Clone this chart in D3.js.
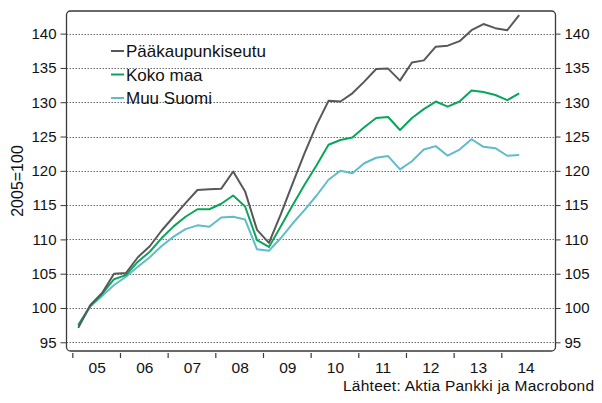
<!DOCTYPE html>
<html>
<head>
<meta charset="utf-8">
<script src="https://cdn.jsdelivr.net/npm/d3@7"></script>
<style>
  html, body { margin: 0; padding: 0; background: #fff; }
  svg { display: block; font-family: "Liberation Sans", Arial, sans-serif; }
</style>
</head>
<body>
<svg id="chart" width="602" height="403"></svg>
<script>
// ---- Data ----
const quarters = [
  "2005Q1","2005Q2","2005Q3","2005Q4","2006Q1","2006Q2","2006Q3","2006Q4",
  "2007Q1","2007Q2","2007Q3","2007Q4","2008Q1","2008Q2","2008Q3","2008Q4",
  "2009Q1","2009Q2","2009Q3","2009Q4","2010Q1","2010Q2","2010Q3","2010Q4",
  "2011Q1","2011Q2","2011Q3","2011Q4","2012Q1","2012Q2","2012Q3","2012Q4",
  "2013Q1","2013Q2","2013Q3","2013Q4","2014Q1","2014Q2"
];
const paakaupunkiseutu = [97.1, 100.4, 102.2, 105.0, 105.1, 107.4, 109.0, 111.3, 113.3, 115.3,
  117.2, 117.3, 117.4, 119.9, 117.0, 111.4, 109.5, 113.7, 118.2, 122.6, 126.7, 130.2, 130.1,
  131.3, 133.0, 134.85, 134.9, 133.15, 135.8, 136.1, 138.1, 138.25, 138.9, 140.5, 141.4, 140.8,
  140.5, 142.7];
const kokoMaa = [97.5, 100.3, 102.05, 104.2, 104.8, 106.75, 108.2, 110.2, 111.9, 113.3,
  114.4, 114.4, 115.2, 116.4, 114.8, 109.9, 108.9, 111.9, 115.0, 118.0, 120.8, 123.8, 124.5,
  124.85, 126.35, 127.7, 127.85, 125.95, 127.7, 129.0, 130.1, 129.35, 130.1, 131.7, 131.5,
  131.05, 130.3, 131.3];
const muuSuomi = [97.4, 100.2, 101.75, 103.35, 104.55, 106.0, 107.4, 109.05, 110.4, 111.5,
  112.05, 111.85, 113.2, 113.3, 112.9, 108.55, 108.35, 110.2, 112.35, 114.3, 116.4, 118.7,
  120.0, 119.65, 121.1, 121.9, 122.15, 120.2, 121.4, 123.1, 123.6, 122.2, 123.1, 124.6, 123.5,
  123.3, 122.2, 122.3];
const seriesNames = ["Pääkaupunkiseutu", "Koko maa", "Muu Suomi"];
const seriesColors = ["#58585a", "#0aa55a", "#5fbccb"];
const yTicks = [95, 100, 105, 110, 115, 120, 125, 130, 135, 140];
const yearTicks = [2005, 2006, 2007, 2008, 2009, 2010, 2011, 2012, 2013, 2014];
const yearLabels = ["05", "06", "07", "08", "09", "10", "11", "12", "13", "14"];
const yTitle = "2005=100";
const sourceText = "Lähteet: Aktia Pankki ja Macrobond";

// ---- Layout ----
const svg = d3.select("#chart");
const pL = 66.5, pR = 555.5, pT = 11, pB = 351;

const qToYear = q => +q.slice(0, 4) + (+q.slice(5) - 0.5) / 4;

const x = d3.scaleLinear().domain([2004.878, 2015.137]).range([pL, pR]);
const y = d3.scaleLinear().domain([93.73, 143.3]).range([pB, pT]);

// gridlines
svg.append("g").selectAll("line").data(yTicks).join("line")
  .attr("x1", pL).attr("x2", pR)
  .attr("y1", d => Math.round(y(d)) + 0.5).attr("y2", d => Math.round(y(d)) + 0.5)
  .attr("stroke", "#6a6a6a").attr("stroke-width", 1)
  .attr("stroke-dasharray", "1.5,1.5");

// frame
svg.append("rect")
  .attr("x", pL).attr("y", pT)
  .attr("width", pR - pL).attr("height", pB - pT)
  .attr("rx", 4).attr("ry", 4)
  .attr("fill", "none").attr("stroke", "#3a3a3a").attr("stroke-width", 1.3);

// left axis
const yAxisL = d3.axisLeft(y).tickValues(yTicks).tickSize(6).tickPadding(4);
const gL = svg.append("g").attr("transform", `translate(${pL},0)`).call(yAxisL);
gL.select(".domain").remove();
gL.selectAll("line").attr("stroke", "#3a3a3a");
gL.selectAll("text").attr("font-size", 15).attr("fill", "#111").attr("font-family", "Liberation Sans, Arial, sans-serif");

// right axis
const yAxisR = d3.axisRight(y).tickValues(yTicks).tickSize(5).tickPadding(4);
const gR = svg.append("g").attr("transform", `translate(${pR},0)`).call(yAxisR);
gR.select(".domain").remove();
gR.selectAll("line").attr("stroke", "#3a3a3a");
gR.selectAll("text").attr("font-size", 15).attr("fill", "#111").attr("font-family", "Liberation Sans, Arial, sans-serif");

// x axis ticks
const xAxis = d3.axisBottom(x).tickValues(yearTicks).tickSize(5).tickFormat("");
const gX = svg.append("g").attr("transform", `translate(0,${pB + 2})`).call(xAxis);
gX.select(".domain").remove();
gX.selectAll("line").attr("stroke", "#3a3a3a").attr("stroke-width", 1.2);

// x labels (centered in year)
svg.append("g").selectAll("text").data(yearTicks).join("text")
  .attr("x", d => x(d + 0.5) + 1)
  .attr("y", 372.5)
  .attr("text-anchor", "middle")
  .attr("font-size", 15.5).attr("fill", "#111")
  .text((d, i) => yearLabels[i]);

// lines
const allSeries = [paakaupunkiseutu, kokoMaa, muuSuomi];
const line = d3.line().x((d, i) => x(qToYear(quarters[i]))).y(d => y(d));
[2, 1, 0].forEach(k => {
  svg.append("path").datum(allSeries[k])
    .attr("d", line)
    .attr("fill", "none")
    .attr("stroke", seriesColors[k])
    .attr("stroke-width", 2)
    .attr("stroke-linejoin", "round");
});

// legend
const legend = svg.append("g");
seriesNames.forEach((name, i) => {
  const ly = 51 + i * 23.5;
  legend.append("line")
    .attr("x1", 111).attr("x2", 124)
    .attr("y1", ly).attr("y2", ly)
    .attr("stroke", seriesColors[i]).attr("stroke-width", 2);
  legend.append("text")
    .attr("x", 126).attr("y", ly + 6)
    .attr("font-size", 17).attr("fill", "#111")
    .text(name);
});

// y title
svg.append("text")
  .attr("transform", `translate(23,${(pT + pB) / 2}) rotate(-90)`)
  .attr("text-anchor", "middle")
  .attr("font-size", 16).attr("fill", "#111")
  .text(yTitle);

// source
svg.append("text")
  .attr("x", 594).attr("y", 390.5)
  .attr("text-anchor", "end")
  .attr("font-size", 15.5).attr("fill", "#111")
  .attr("textLength", 251).attr("lengthAdjust", "spacing")
  .text(sourceText);
</script>
</body>
</html>
